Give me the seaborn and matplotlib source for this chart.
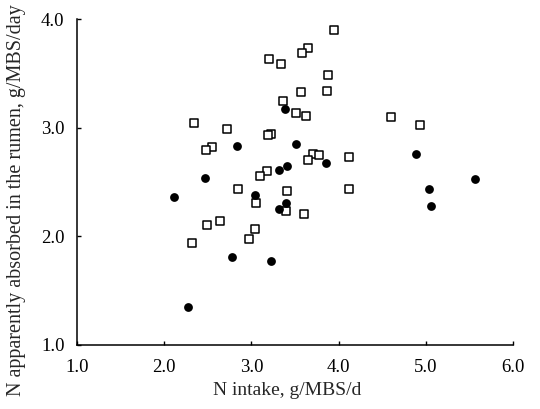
import matplotlib
matplotlib.use("Agg")
import matplotlib.pyplot as plt
import seaborn as sns
import pandas as pd

# 开放方块组
square_x = [3.946, 3.654, 3.583, 3.200, 3.334, 3.875, 3.571, 3.863, 3.362, 3.512,
            3.630, 4.596, 4.931, 2.345, 2.723, 3.224, 3.185, 2.546, 2.475, 3.705,
            3.780, 3.654, 4.115, 3.177, 3.098, 2.849, 4.115, 3.409, 3.058, 3.401,
            3.603, 2.644, 2.494, 3.039, 2.968, 2.321]
square_y = [3.899, 3.733, 3.690, 3.629, 3.589, 3.489, 3.329, 3.335, 3.244, 3.137,
            3.103, 3.097, 3.029, 3.045, 2.990, 2.941, 2.928, 2.818, 2.797, 2.754,
            2.748, 2.702, 2.726, 2.601, 2.555, 2.436, 2.436, 2.414, 2.304, 2.234,
            2.209, 2.142, 2.108, 2.065, 1.973, 1.943]

# 实心圆组
circle_x = [3.390, 3.512, 2.830, 4.884, 3.851, 3.405, 3.315, 2.467, 5.566, 5.042,
            2.116, 3.039, 3.397, 5.058, 3.311, 2.778, 3.220, 2.274]
circle_y = [3.170, 2.852, 2.830, 2.754, 2.671, 2.647, 2.607, 2.537, 2.530, 2.436,
            2.359, 2.384, 2.310, 2.279, 2.252, 1.814, 1.771, 1.352]

ticks = [1.0, 2.0, 3.0, 4.0, 5.0, 6.0]
y_ticks = [1.0, 2.0, 3.0, 4.0]

sns.set_style("ticks")
plt.rcParams['font.family'] = ['Liberation Serif', 'DejaVu Serif']

df_sq = pd.DataFrame({'x': square_x, 'y': square_y})
df_ci = pd.DataFrame({'x': circle_x, 'y': circle_y})

fig = plt.figure(figsize=(5.4, 4.09), dpi=100)
ax = fig.add_axes([0.1426, 0.1565, 0.8074, 0.797])

sns.scatterplot(data=df_sq, x='x', y='y', marker='s', s=34, color='white',
                edgecolor='black', linewidth=1.1, ax=ax, zorder=3)
sns.scatterplot(data=df_ci, x='x', y='y', marker='o', s=40, color='black',
                edgecolor='black', linewidth=0, ax=ax, zorder=4)

ax.set_xlim(1.0, 6.0)
ax.set_ylim(1.0, 4.0)
ax.set_xticks(ticks)
ax.set_yticks(y_ticks)
ax.set_xticklabels([f'{t:.1f}' for t in ticks])
ax.set_yticklabels([f'{t:.1f}' for t in y_ticks])
ax.tick_params(direction='in', length=3, width=1, labelsize=13.5, colors='black')
ax.tick_params(axis='x', pad=10)
ax.tick_params(axis='y', pad=9)
sns.despine(ax=ax)
for sp in ['left', 'bottom']:
    ax.spines[sp].set_linewidth(1.1)
    ax.spines[sp].set_color('black')

ax.set_xlabel('N intake, g/MBS/d', fontsize=14)
ax.set_ylabel('N apparently absorbed in the rumen, g/MBS/day', fontsize=14.5)
ax.xaxis.set_label_coords(0.482, -0.115)
ax.yaxis.set_label_coords(-0.118, 0.445)

fig.savefig('out.png', dpi=100, facecolor='white')
